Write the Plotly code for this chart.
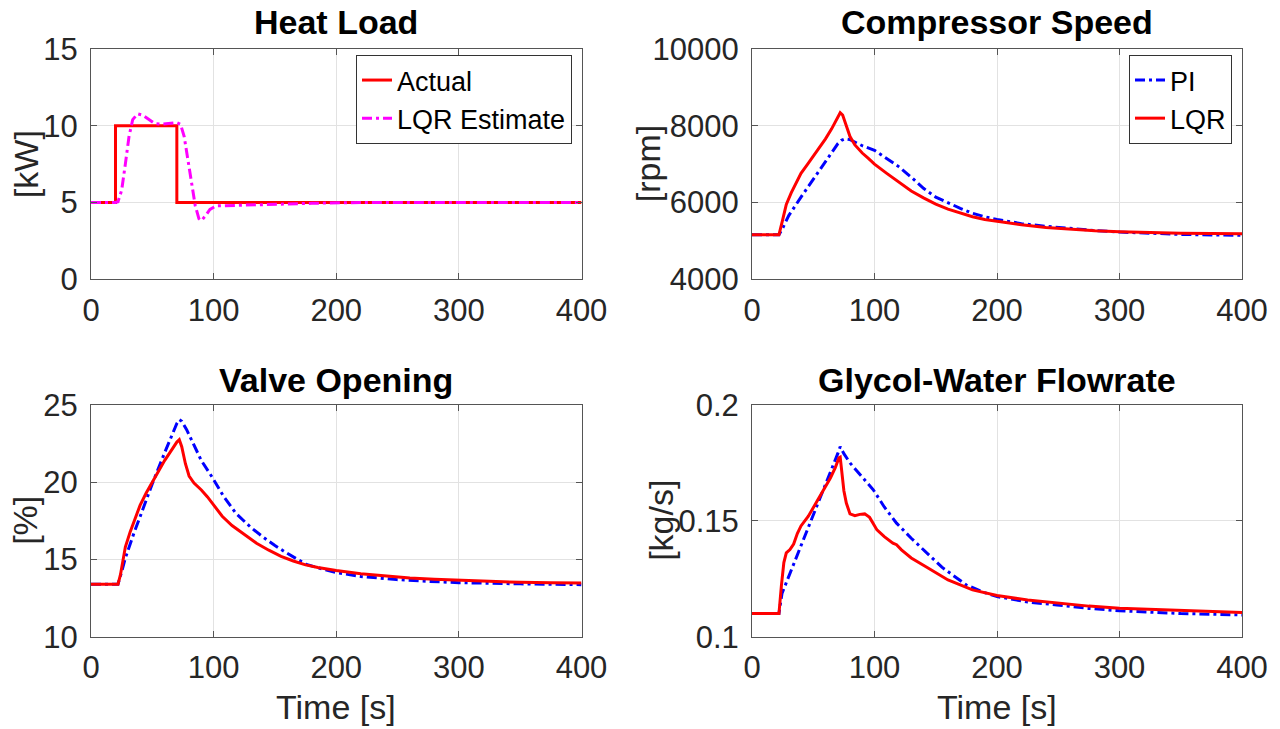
import plotly.graph_objects as go

W, H = 1280, 729

# ---------------- data ----------------
# Heat load
hl_actual_t = [0, 20, 20, 70, 70, 400]
hl_actual_v = [5, 5, 10, 10, 5, 5]
hl_est_t = [0, 20, 22, 25, 28, 31, 34, 38, 42, 47, 52, 58, 64, 70, 73, 76, 79, 82, 85, 88, 90,
            93, 97, 102, 110, 130, 150, 180, 220, 400]
hl_est_v = [5, 5, 5.05, 5.8, 7.5, 9.3, 10.4, 10.78, 10.7, 10.4, 10.15, 10.1, 10.15, 10.2, 10.1,
            9.3, 7.8, 6.2, 4.8, 3.95, 3.82, 4.1, 4.55, 4.78, 4.8, 4.83, 4.88, 4.95, 5.0, 5.0]

# Compressor speed
cs_pi_t = [0, 22, 25, 30, 40, 50, 60, 66, 70, 73, 76, 80, 85, 90, 100, 110, 120, 130, 140, 150,
           160, 170, 180, 190, 200, 220, 240, 260, 280, 300, 325, 350, 375, 400]
cs_pi_v = [5160, 5160, 5330, 5660, 6140, 6600, 7060, 7350, 7530, 7620, 7660, 7640, 7560, 7480,
           7360, 7150, 6930, 6660, 6370, 6140, 5990, 5850, 5720, 5630, 5560, 5450, 5380, 5320,
           5270, 5230, 5195, 5170, 5155, 5145]
cs_lqr_t = [0, 22, 25, 28, 32, 36, 40, 45, 50, 55, 60, 65, 70, 72, 74, 77, 80, 84, 90, 95, 100,
            110, 120, 130, 140, 150, 160, 170, 180, 190, 200, 220, 240, 260, 280, 300, 325, 350,
            375, 400]
cs_lqr_v = [5160, 5160, 5550, 5950, 6250, 6520, 6760, 6980, 7200, 7420, 7660, 7920, 8220, 8340,
            8280, 8000, 7720, 7500, 7290, 7150, 7000, 6760, 6520, 6300, 6120, 5960, 5830, 5720,
            5630, 5560, 5510, 5420, 5350, 5300, 5265, 5240, 5215, 5200, 5190, 5185]

# Valve opening
vo_pi_t = [0, 22, 25, 28, 35, 40, 50, 60, 66, 70, 72, 74, 78, 84, 90, 99, 108, 118, 130, 140,
           150, 160, 175, 190, 200, 220, 249, 275, 300, 350, 400]
vo_pi_v = [13.4, 13.4, 14.2, 15.1, 16.7, 17.8, 19.9, 21.9, 23.1, 23.8, 24.05, 23.95, 23.4, 22.35,
           21.4, 20.3, 19.1, 18.0, 17.1, 16.47, 15.9, 15.4, 14.7, 14.35, 14.15, 13.9, 13.7,
           13.58, 13.5, 13.42, 13.37]
vo_lqr_t = [0, 22, 24, 26, 28, 32, 36, 40, 45, 50, 55, 60, 65, 70, 72, 74, 77, 80, 84, 90, 95,
            100, 107, 115, 125, 135, 145, 155, 165, 175, 185, 200, 220, 240, 260, 280, 300, 325,
            350, 375, 400]
vo_lqr_v = [13.4, 13.4, 14.0, 15.0, 15.8, 16.8, 17.7, 18.5, 19.3, 20.0, 20.7, 21.4, 22.0, 22.6,
            22.75, 22.3, 21.2, 20.4, 19.95, 19.5, 19.05, 18.5, 17.8, 17.2, 16.6, 16.05, 15.6,
            15.2, 14.9, 14.65, 14.48, 14.28, 14.07, 13.92, 13.8, 13.72, 13.65, 13.57, 13.52,
            13.49, 13.47]

# Glycol-water flowrate
gf_pi_t = [0, 22, 24.5, 30, 40, 50, 60, 66, 70, 72, 75, 80, 90, 99, 108, 118, 130, 140, 155, 175,
           190, 200, 225, 249, 275, 300, 350, 400]
gf_pi_v = [0.110, 0.110, 0.1187, 0.126, 0.139, 0.152, 0.165, 0.173, 0.179, 0.182, 0.179, 0.175,
           0.169, 0.1634, 0.156, 0.149, 0.1425, 0.1375, 0.130, 0.1223, 0.119, 0.1173, 0.115,
           0.1137, 0.1122, 0.1112, 0.110, 0.1094]
gf_lqr_t = [0, 22, 24, 26, 28, 31, 34, 37, 40, 46, 52, 58, 64, 68, 71, 72, 73, 75, 77, 80, 84,
            88, 92, 96, 102, 108, 115, 118, 122, 130, 142, 160, 180, 200, 225, 249, 275, 300,
            350, 400]
gf_lqr_v = [0.110, 0.110, 0.122, 0.132, 0.1362, 0.1376, 0.140, 0.1445, 0.1478, 0.152, 0.1575,
            0.163, 0.1685, 0.173, 0.1772, 0.1775, 0.172, 0.163, 0.1577, 0.153, 0.1522, 0.1528,
            0.153, 0.1515, 0.1461, 0.1432, 0.1404, 0.1397, 0.1375, 0.134, 0.1302, 0.1245,
            0.1202, 0.1178, 0.1158, 0.1144, 0.1132, 0.1123, 0.1112, 0.1104]

titles = ["Heat Load", "Compressor Speed", "Valve Opening", "Glycol-Water Flowrate"]
ylabels = ["[kW]", "[rpm]", "[%]", "[kg/s]"]
xlabel = "Time [s]"
x_ticks = [0, 100, 200, 300, 400]
y_ticks = [[0, 5, 10, 15], [4000, 6000, 8000, 10000], [10, 15, 20, 25], [0.1, 0.15, 0.2]]

# ---------------- style ----------------
FONT = "Liberation Sans, Arial, sans-serif"
RED, BLUE, MAG = "#ff0000", "#0000ff", "#ff00ff"
DASHDOT = "10px,4px,3px,4px"
LW = 3

# pixel geometry
px_x = [(91, 581.5), (752, 1242)]
px_y = [(49, 279.3), (405, 636.7)]


def dom_x(i):
    a, b = px_x[i]
    return [a / W, b / W]


def dom_y(i):
    a, b = px_y[i]
    return [1 - b / H, 1 - a / H]


fig = go.Figure()

# Heat load
fig.add_trace(go.Scatter(x=hl_actual_t, y=hl_actual_v, mode="lines", name="Actual",
                         line=dict(color=RED, width=LW), xaxis="x", yaxis="y", legend="legend"))
fig.add_trace(go.Scatter(x=hl_est_t, y=hl_est_v, mode="lines", name="LQR Estimate",
                         line=dict(color=MAG, width=LW, dash=DASHDOT), xaxis="x", yaxis="y",
                         legend="legend"))
# Compressor
fig.add_trace(go.Scatter(x=cs_pi_t, y=cs_pi_v, mode="lines", name="PI",
                         line=dict(color=BLUE, width=LW, dash=DASHDOT), xaxis="x2", yaxis="y2",
                         legend="legend2"))
fig.add_trace(go.Scatter(x=cs_lqr_t, y=cs_lqr_v, mode="lines", name="LQR",
                         line=dict(color=RED, width=LW), xaxis="x2", yaxis="y2", legend="legend2"))
# Valve
fig.add_trace(go.Scatter(x=vo_pi_t, y=vo_pi_v, mode="lines", name="PI", showlegend=False,
                         line=dict(color=BLUE, width=LW, dash=DASHDOT), xaxis="x3", yaxis="y3"))
fig.add_trace(go.Scatter(x=vo_lqr_t, y=vo_lqr_v, mode="lines", name="LQR", showlegend=False,
                         line=dict(color=RED, width=LW), xaxis="x3", yaxis="y3"))
# Flow
fig.add_trace(go.Scatter(x=gf_pi_t, y=gf_pi_v, mode="lines", name="PI", showlegend=False,
                         line=dict(color=BLUE, width=LW, dash=DASHDOT), xaxis="x4", yaxis="y4"))
fig.add_trace(go.Scatter(x=gf_lqr_t, y=gf_lqr_v, mode="lines", name="LQR", showlegend=False,
                         line=dict(color=RED, width=LW), xaxis="x4", yaxis="y4"))

AX_COL = "#555555"
GRID_COL = "#e2e2e2"
TICK_FONT = dict(family=FONT, size=31, color="#262626")

common = dict(showline=True, linecolor=AX_COL, linewidth=1, mirror="ticks", ticks="inside",
              ticklen=6, tickcolor=AX_COL, showgrid=True, gridcolor=GRID_COL, gridwidth=1,
              zeroline=False, tickfont=TICK_FONT, fixedrange=True, automargin=False)

layout = dict(width=W, height=H, autosize=False, margin=dict(l=0, r=0, t=0, b=0, pad=0,
                                                             autoexpand=False),
              paper_bgcolor="white", plot_bgcolor="white",
              font=dict(family=FONT, color="#262626"))

cells = [(0, 0), (1, 0), (0, 1), (1, 1)]  # (col, row)
annotations = []
for k, (c, r) in enumerate(cells):
    sfx = "" if k == 0 else str(k + 1)
    yt = y_ticks[k]
    layout["xaxis" + sfx] = dict(common, domain=dom_x(c), range=[x_ticks[0], x_ticks[-1]],
                                 tickvals=x_ticks, anchor="y" + sfx, ticklabelstandoff=3)
    layout["yaxis" + sfx] = dict(common, domain=dom_y(r), range=[yt[0], yt[-1]], tickvals=yt,
                                 tickformat="d" if k == 1 else None, anchor="x" + sfx,
                                 ticklabelstandoff=6)
    cx = (px_x[c][0] + px_x[c][1]) / 2
    # subplot title
    ty = 22 if r == 0 else 380
    annotations.append(dict(text="<b>%s</b>" % titles[k], x=cx / W, y=1 - ty / H, xref="paper",
                            yref="paper", xanchor="center", yanchor="middle", showarrow=False,
                            font=dict(family=FONT, size=34, color="black")))
    # y label
    ylx = [26, 648, 25, 661][k]
    cy = (px_y[r][0] + px_y[r][1]) / 2
    annotations.append(dict(text=ylabels[k], x=ylx / W, y=1 - cy / H, xref="paper", yref="paper",
                            xanchor="center", yanchor="middle", textangle=-90, showarrow=False,
                            font=dict(family=FONT, size=34, color="#262626")))
    if r == 1:
        annotations.append(dict(text=xlabel, x=cx / W, y=1 - 707 / H, xref="paper",
                                yref="paper", xanchor="center", yanchor="middle",
                                showarrow=False, font=dict(family=FONT, size=34, color="#262626")))

layout["annotations"] = annotations
leg_common = dict(bgcolor="white", bordercolor="#333333", borderwidth=1,
                  font=dict(family=FONT, size=27, color="black"), itemwidth=30,
                  tracegroupgap=0, xanchor="right", yanchor="top", xref="paper", yref="paper")
layout["legend"] = dict(leg_common, x=572 / W, y=1 - 55 / H)
layout["legend2"] = dict(leg_common, x=1232 / W, y=1 - 55 / H)
fig.update_layout(**layout)

fig.write_html("out.html")
